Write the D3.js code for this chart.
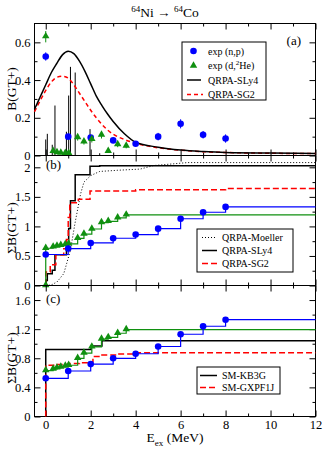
<!DOCTYPE html>
<meta charset="utf-8">
<script src="https://d3js.org/d3.v7.min.js"></script>
<body style="margin:0;background:#fff">
<div id="chart"></div>
<script>
    // ---- data (energies in MeV) ----
    // exp (n,p)
    const npX = [0, 1, 2, 3, 4, 5, 6, 7, 8];
    const npB = [0.525, 0.1, 0.095, 0.08, 0.062, 0.1, 0.168, 0.11, 0.09];
    const npErr = [0.022, 0.01, 0.01, 0.012, 0.012, 0.02, 0.024, 0.02, 0.022];

    // exp (d,2He)
    const dHeX = [0, 0.33, 0.5, 0.67, 0.87, 1.02, 1.42, 1.7, 2.05, 2.48, 2.78, 3.2, 3.58];
    const dHeB = [0.63, 0.022, 0.015, 0.013, 0.012, 0.012, 0.095, 0.072, 0.085, 0.108, 0.022, 0.058, 0.05];
    const dHeErr = [0.03, 0.008, 0.006, 0.006, 0.006, 0.006, 0.016, 0.014, 0.016, 0.018, 0.008, 0.014, 0.012];

    // folded QRPA distributions
    const foldX = [-0.5, -0.25, 0, 0.25, 0.5, 0.75, 1, 1.25, 1.5, 1.75, 2, 2.25, 2.5, 2.75, 3, 3.5, 4, 5, 6, 7, 8, 10, 12];
    const sly4Fold = [0.245, 0.31, 0.375, 0.44, 0.49, 0.535, 0.553, 0.54, 0.5, 0.445, 0.38, 0.315, 0.265, 0.22, 0.18, 0.115, 0.07, 0.044, 0.029, 0.021, 0.016, 0.013, 0.011];
    const sg2Fold = [0.232, 0.29, 0.345, 0.39, 0.415, 0.42, 0.41, 0.375, 0.33, 0.285, 0.24, 0.2, 0.165, 0.135, 0.113, 0.085, 0.065, 0.041, 0.028, 0.02, 0.016, 0.012, 0.01];

    // QRPA-SLy4 discrete strengths
    const stickX = [0, 0.07, 0.29, 0.41, 0.92, 1.02, 1.1, 1.31, 1.97, 2.4];
    const stickB = [0.085, 0.115, 0.057, 0.265, 0.126, 0.318, 0.47, 0.44, 0.14, 0.012];

    // running sums, panel (b)
    const moellerX = [0, 0.25, 0.5, 0.8, 0.9, 1.1, 1.3, 1.55, 1.7, 2.0, 2.4, 3.2, 4.2, 4.8, 5.7, 6.3, 12];
    const moellerSum = [0, 0.01, 0.06, 0.2, 0.33, 0.6, 1.05, 1.55, 1.75, 1.86, 1.93, 1.95, 1.97, 2.03, 2.06, 2.08, 2.08];
    const sg2SumX = [0, 0, 0.2, 0.45, 0.8, 0.92, 1.0, 1.07, 1.45, 1.97, 4, 8, 12];
    const sg2Sum = [0, 0.23, 0.35, 0.52, 0.62, 0.78, 1.15, 1.4, 1.46, 1.6, 1.62, 1.64, 1.67];

    // shell model running sums, panel (c)
    const kb3gX = [0, 0, 2.02, 2.5, 12];
    const kb3gSum = [0, 0.92, 0.97, 1.04, 1.04];
    const gxpfX = [0, 0, 0.5, 1.0, 1.5, 1.95, 2.1, 2.5, 3.2, 4, 12];
    const gxpfSum = [0, 0.705, 0.715, 0.728, 0.74, 0.752, 0.825, 0.845, 0.86, 0.875, 0.875];

    // ticks
    const xMajor = [0, 2, 4, 6, 8, 10, 12];
    const xMinor = [1, 3, 5, 7, 9, 11];
    const aMajor = [0, 0.2, 0.4, 0.6], aMinor = [0.1, 0.3, 0.5];
    const bMajor = [0, 0.5, 1, 1.5, 2], bMinor = [0.25, 0.75, 1.25, 1.75];
    const cMajor = [0, 0.4, 0.8, 1.2, 1.6], cMinor = [0.2, 0.6, 1.0, 1.4];

    // ---- drawing ----
    const W = 324, H = 449;
    const L = 34.5, R = 315.5;
    const serif = "'Liberation Serif', 'DejaVu Serif', serif";
    const BLUE = "#0000ff", GREEN = "#109010", RED = "#ff0000";

    const svg = d3.select("#chart").append("svg")
        .attr("width", W).attr("height", H)
        .style("font-family", serif);

    const x = d3.scaleLinear().domain([-0.5, 12]).range([L, R]);
    const ya = d3.scaleLinear().domain([0, 0.7]).range([155.5, 23.5]);
    const yb = d3.scaleLinear().domain([0, 2.2]).range([285.5, 155.5]);
    const yc = d3.scaleLinear().domain([0, 1.8]).range([416.5, 285.5]);

    function frame(y, major, minor, xLabels) {
        const top = y.range()[1], bot = y.range()[0];
        const g = svg.append("g");
        const fmt = d => String(d);
        const parts = [
            [d3.axisLeft(y).tickValues(major).tickSize(-6).tickPadding(4).tickFormat(fmt), L, 0],
            [d3.axisLeft(y).tickValues(minor).tickSize(-3).tickFormat(""), L, 0],
            [d3.axisRight(y).tickValues(major).tickSize(-6).tickFormat(""), R, 0],
            [d3.axisRight(y).tickValues(minor).tickSize(-3).tickFormat(""), R, 0],
            [d3.axisTop(x).tickValues(xMajor).tickSize(-6).tickFormat(""), 0, top],
            [d3.axisTop(x).tickValues(xMinor).tickSize(-3).tickFormat(""), 0, top],
            [d3.axisBottom(x).tickValues(xMajor).tickSize(-6).tickPadding(4).tickFormat(xLabels ? fmt : ""), 0, bot],
            [d3.axisBottom(x).tickValues(xMinor).tickSize(-3).tickFormat(""), 0, bot]
        ];
        parts.forEach(p => {
            const a = g.append("g").attr("transform", "translate(" + p[1] + "," + p[2] + ")").call(p[0]);
            a.attr("font-family", serif).attr("font-size", 12.5);
            a.select(".domain").remove();
            a.selectAll("line").attr("stroke", "#000");
            a.selectAll("text").attr("fill", "#000");
        });
        g.append("rect")
            .attr("x", L).attr("y", top)
            .attr("width", R - L).attr("height", bot - top)
            .attr("fill", "none").attr("stroke", "#000").attr("stroke-width", 1);
    }

    function stepLine(pts, color, dash, width) {
        return svg.append("path")
            .datum(pts)
            .attr("d", d3.line().x(d => x(d[0])).y(d => d[1]).curve(d3.curveStepAfter))
            .attr("fill", "none")
            .attr("stroke", color)
            .attr("stroke-width", width || 1.2)
            .attr("stroke-dasharray", dash || null);
    }

    const tri = d3.symbol().type(d3.symbolTriangle).size(24);

    function circles(xs, ys, y) {
        svg.append("g").selectAll("circle")
            .data(xs.map((v, i) => [v, ys[i]]))
            .join("circle")
            .attr("cx", d => x(d[0])).attr("cy", d => y(d[1]))
            .attr("r", 3.3).attr("fill", BLUE);
    }

    function triangles(xs, ys, y) {
        svg.append("g").selectAll("path")
            .data(xs.map((v, i) => [v, ys[i]]))
            .join("path")
            .attr("d", tri)
            .attr("transform", d => "translate(" + x(d[0]) + "," + (y(d[1]) - 0.5) + ")")
            .attr("fill", GREEN);
    }

    // ---------- panel (a) ----------
    frame(ya, aMajor, aMinor, false);

    svg.append("g").selectAll("line")
        .data(stickX.map((v, i) => [v, stickB[i]]))
        .join("line")
        .attr("x1", d => x(d[0])).attr("x2", d => x(d[0]))
        .attr("y1", ya(0)).attr("y2", d => ya(d[1]))
        .attr("stroke", "#000").attr("stroke-width", 1);

    const foldLine = d3.line().x(d => x(d[0])).y(d => ya(d[1])).curve(d3.curveMonotoneX);
    svg.append("path")
        .datum(foldX.map((v, i) => [v, sg2Fold[i]]))
        .attr("d", foldLine)
        .attr("fill", "none").attr("stroke", RED).attr("stroke-width", 1.5)
        .attr("stroke-dasharray", "4,3");
    svg.append("path")
        .datum(foldX.map((v, i) => [v, sly4Fold[i]]))
        .attr("d", foldLine)
        .attr("fill", "none").attr("stroke", "#000").attr("stroke-width", 1.5);

    // error bars
    svg.append("g").selectAll("line")
        .data(npX.map((v, i) => [v, npB[i], npErr[i]]))
        .join("line")
        .attr("x1", d => x(d[0])).attr("x2", d => x(d[0]))
        .attr("y1", d => ya(d[1] - d[2])).attr("y2", d => ya(d[1] + d[2]))
        .attr("stroke", BLUE).attr("stroke-width", 1);
    svg.append("g").selectAll("line")
        .data(dHeX.map((v, i) => [v, dHeB[i], dHeErr[i]]))
        .join("line")
        .attr("x1", d => x(d[0])).attr("x2", d => x(d[0]))
        .attr("y1", d => ya(d[1] - d[2])).attr("y2", d => ya(d[1] + d[2]))
        .attr("stroke", GREEN).attr("stroke-width", 1);
    circles(npX, npB, ya);
    triangles(dHeX, dHeB, ya);

    svg.append("text").attr("x", 301).attr("y", 45).attr("text-anchor", "end")
        .attr("font-size", 13).text("(a)");

    // legend (a)
    const lgA = svg.append("g").attr("font-size", 10);
    lgA.append("rect").attr("x", 182).attr("y", 42).attr("width", 84).attr("height", 58)
        .attr("fill", "#fff").attr("stroke", "#000").attr("stroke-width", 1);
    lgA.append("circle").attr("cx", 193.5).attr("cy", 51).attr("r", 3.3).attr("fill", BLUE);
    lgA.append("path").attr("d", tri).attr("transform", "translate(193.5,65.5)").attr("fill", GREEN);
    lgA.append("line").attr("x1", 187).attr("x2", 201).attr("y1", 80).attr("y2", 80)
        .attr("stroke", "#000").attr("stroke-width", 1.5);
    lgA.append("line").attr("x1", 187).attr("x2", 203).attr("y1", 94.5).attr("y2", 94.5)
        .attr("stroke", RED).attr("stroke-width", 1.5).attr("stroke-dasharray", "4,3");
    lgA.append("text").attr("x", 208).attr("y", 54.5).text("exp (n,p)");
    const t2 = lgA.append("text").attr("x", 208).attr("y", 69);
    t2.append("tspan").text("exp (d,");
    t2.append("tspan").attr("font-size", 7).attr("dy", -4).text("2");
    t2.append("tspan").attr("dy", 4).text("He)");
    lgA.append("text").attr("x", 208).attr("y", 83.5).text("QRPA-SLy4");
    lgA.append("text").attr("x", 208).attr("y", 98).text("QRPA-SG2");

    // ---------- panel (b) ----------
    frame(yb, bMajor, bMinor, false);

    const npSum = d3.cumsum(npB);
    const dHeSum = d3.cumsum(dHeB);
    const stickSum = d3.cumsum(stickB);

    const sly4Pts = [[0, yb(0)]].concat(stickX.map((v, i) => [v, yb(stickSum[i])]));
    sly4Pts.push([12, yb(stickSum[stickSum.length - 1])]);
    stepLine(sly4Pts, "#000", null, 1.5);

    svg.append("path")
        .datum(moellerX.map((v, i) => [v, moellerSum[i]]))
        .attr("d", d3.line().x(d => x(d[0])).y(d => yb(d[1])))
        .attr("fill", "none").attr("stroke", "#000").attr("stroke-width", 1)
        .attr("stroke-dasharray", "1,2");

    stepLine(sg2SumX.map((v, i) => [v, yb(sg2Sum[i])]), RED, "6,3", 1.5);

    const greenB = [[0, yb(0)]].concat(dHeX.map((v, i) => [v, yb(dHeSum[i])]));
    greenB.push([12, yb(dHeSum[dHeSum.length - 1])]);
    stepLine(greenB, GREEN);
    const blueB = npX.map((v, i) => [v, yb(npSum[i])]);
    blueB.push([12, yb(npSum[npSum.length - 1])]);
    stepLine(blueB, BLUE);

    triangles([0].concat(dHeX), [0].concat(Array.from(dHeSum)), yb);
    circles(npX, Array.from(npSum), yb);

    svg.append("text").attr("x", 46).attr("y", 169).attr("font-size", 13).text("(b)");

    // legend (b)
    const lgB = svg.append("g").attr("font-size", 10);
    lgB.append("rect").attr("x", 197).attr("y", 229).attr("width", 96).attr("height", 43)
        .attr("fill", "#fff").attr("stroke", "#000").attr("stroke-width", 1);
    lgB.append("line").attr("x1", 202).attr("x2", 217).attr("y1", 237.5).attr("y2", 237.5)
        .attr("stroke", "#000").attr("stroke-width", 1).attr("stroke-dasharray", "1,2");
    lgB.append("line").attr("x1", 202).attr("x2", 217).attr("y1", 250.5).attr("y2", 250.5)
        .attr("stroke", "#000").attr("stroke-width", 1.5);
    lgB.append("line").attr("x1", 202).attr("x2", 218).attr("y1", 263.5).attr("y2", 263.5)
        .attr("stroke", RED).attr("stroke-width", 1.5).attr("stroke-dasharray", "6,3");
    lgB.append("text").attr("x", 222).attr("y", 241).text("QRPA-Moeller");
    lgB.append("text").attr("x", 222).attr("y", 254).text("QRPA-SLy4");
    lgB.append("text").attr("x", 222).attr("y", 267).text("QRPA-SG2");

    // ---------- panel (c) ----------
    frame(yc, cMajor, cMinor, true);

    stepLine(kb3gX.map((v, i) => [v, yc(kb3gSum[i])]), "#000", null, 1.5);
    stepLine(gxpfX.map((v, i) => [v, yc(gxpfSum[i])]), RED, "6,3", 1.5);

    const greenC = dHeX.map((v, i) => [v, yc(dHeSum[i])]);
    greenC.push([12, yc(dHeSum[dHeSum.length - 1])]);
    stepLine(greenC, GREEN);
    const blueC = npX.map((v, i) => [v, yc(npSum[i])]);
    blueC.push([12, yc(npSum[npSum.length - 1])]);
    stepLine(blueC, BLUE);

    triangles(dHeX, Array.from(dHeSum), yc);
    circles(npX, Array.from(npSum), yc);

    svg.append("text").attr("x", 46).attr("y", 303).attr("font-size", 13).text("(c)");

    // legend (c)
    const lgC = svg.append("g").attr("font-size", 10);
    lgC.append("rect").attr("x", 197).attr("y", 367).attr("width", 83).attr("height", 27)
        .attr("fill", "#fff").attr("stroke", "#000").attr("stroke-width", 1);
    lgC.append("line").attr("x1", 200).attr("x2", 217).attr("y1", 375.5).attr("y2", 375.5)
        .attr("stroke", "#000").attr("stroke-width", 1.5);
    lgC.append("line").attr("x1", 200).attr("x2", 218).attr("y1", 387.5).attr("y2", 387.5)
        .attr("stroke", RED).attr("stroke-width", 1.5).attr("stroke-dasharray", "6,3");
    lgC.append("text").attr("x", 222).attr("y", 379).text("SM-KB3G");
    lgC.append("text").attr("x", 222).attr("y", 391).text("SM-GXPF1J");

    // ---------- titles ----------
    const title = svg.append("text").attr("x", 165).attr("y", 17)
        .attr("text-anchor", "middle").attr("font-size", 13.5);
    title.append("tspan").attr("font-size", 9).attr("dy", -5).text("64");
    title.append("tspan").attr("dy", 5).text("Ni \u2192 ");
    title.append("tspan").attr("font-size", 9).attr("dy", -5).text("64");
    title.append("tspan").attr("dy", 5).text("Co");

    const xl = svg.append("text").attr("x", 175).attr("y", 441.5)
        .attr("text-anchor", "middle").attr("font-size", 13.5);
    xl.append("tspan").text("E");
    xl.append("tspan").attr("font-size", 9).attr("dy", 4).text("ex");
    xl.append("tspan").attr("dy", -4).text(" (MeV)");

    [["B(GT+)", 89], ["\u03a3B(GT+)", 228], ["\u03a3B(GT+)", 358]].forEach(d => {
        svg.append("text")
            .attr("transform", "translate(15.5," + d[1] + ") rotate(-90)")
            .attr("text-anchor", "middle").attr("font-size", 13.5)
            .text(d[0]);
    });
</script>
</body>
